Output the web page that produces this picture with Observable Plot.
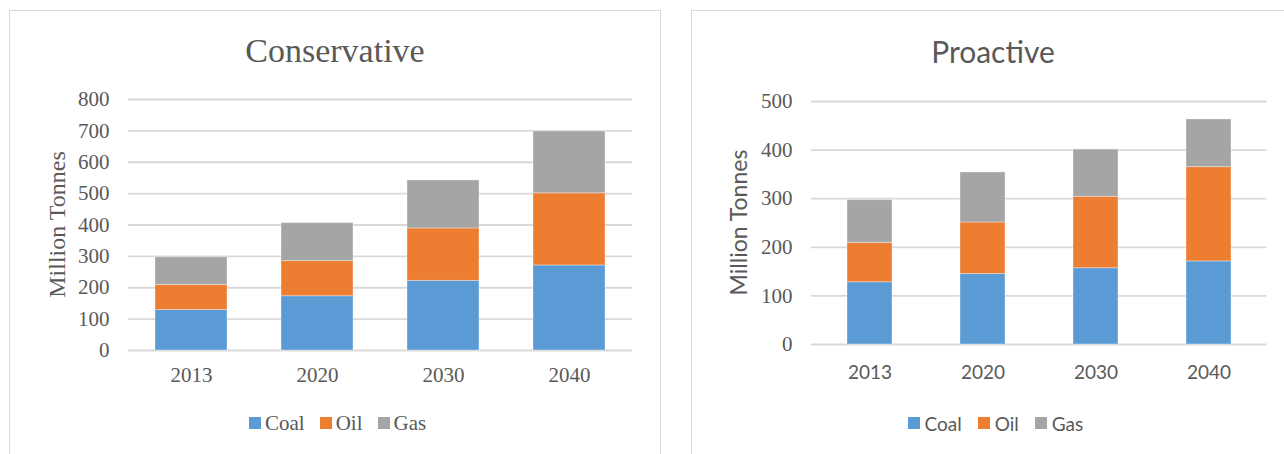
<!DOCTYPE html>
<html><head><meta charset="utf-8">
<script src="https://cdn.jsdelivr.net/npm/d3@7"></script>
<script src="https://cdn.jsdelivr.net/npm/@observablehq/plot@0.6"></script>
<style>
html,body{margin:0;padding:0;background:#fff;}
#root{position:relative;width:1284px;height:454px;overflow:hidden;background:#fff;}
.panel{position:absolute;border:1.5px solid #d9d9d9;box-sizing:border-box;}
.abs{position:absolute;}
#root .legL, #root .legL *{font-family:"Liberation Serif",serif !important;font-size:21px !important;color:#595959 !important;}
#root .legR, #root .legR *{font-family:Lato,sans-serif !important;font-size:19px !important;color:#595959 !important;}
#root .legL > div, #root .legR > div{margin:0 !important;}
.lgl-swatch{margin-right:15px !important;}
.lgl-swatch > svg{margin-right:4px !important;}
.lgr-swatch{margin-right:16px !important;}
.lgr-swatch > svg{margin-right:5px !important;}
</style></head><body><div id="root"></div>
<script>
const years = ["2013","2020","2030","2040"];
const fuels = ["Coal","Oil","Gas"];
const fuelColors = ["#5B9BD5","#ED7D31","#A5A5A5"];
const conservativeCoal = [129,173,222,271];
const conservativeOil = [80,112,167,230];
const conservativeGas = [88,121,153,197];
const proactiveCoal = [128,145,157,171];
const proactiveOil = [81,106,147,194];
const proactiveGas = [88,103,97,98];
const conservativeTicks = [0,100,200,300,400,500,600,700,800];
const proactiveTicks = [0,100,200,300,400,500];
const titles = ["Conservative","Proactive"];
const yLabel = "Million Tonnes";

function rows(coal, oil, gas){
  return years.flatMap((year,i)=>[
    {year, fuel:"Coal", value:coal[i]},
    {year, fuel:"Oil", value:oil[i]},
    {year, fuel:"Gas", value:gas[i]}
  ]);
}

function chart(o){
  const svg = Plot.plot({
    width:o.width, height:o.height,
    marginLeft:o.ml, marginRight:o.mr, marginTop:o.mt, marginBottom:o.mb,
    style:{background:"transparent", color:"#595959", overflow:"visible"},
    x:{domain:years, paddingInner:o.pin, paddingOuter:o.pout},
    y:{domain:[0, o.ticks[o.ticks.length-1]]},
    color:{domain:fuels, range:fuelColors},
    marks:[
      Plot.gridY(o.ticks, {stroke:"#D9D9D9", strokeOpacity:1, strokeWidth:1.8}),
      Plot.barY(o.data, {x:"year", y:"value", fill:"fuel", stroke:"#ffffff", strokeOpacity:0.35, strokeWidth:1}),
      Plot.axisY(o.ticks, {tickSize:0, tickPadding:o.yPad, fontFamily:o.yFont, fontSize:o.yFontSize, label:null}),
      Plot.axisX({tickSize:0, tickPadding:o.xPad, fontFamily:o.xFont, fontSize:o.xFontSize, label:null})
    ]
  });
  svg.style.position = "absolute";
  svg.style.left = o.left + "px";
  svg.style.top = "0px";
  return svg;
}

const root = document.getElementById("root");

const pL = document.createElement("div");
pL.className = "panel";
Object.assign(pL.style, {left:"9px", top:"10px", width:"652px", height:"500px"});
root.appendChild(pL);
const pR = document.createElement("div");
pR.className = "panel";
Object.assign(pR.style, {left:"690.5px", top:"10px", width:"700px", height:"500px"});
root.appendChild(pR);

root.appendChild(chart({
  data: rows(conservativeCoal, conservativeOil, conservativeGas),
  ticks: conservativeTicks, width:660, height:400, left:0,
  ml:128, mr:28, mt:99, mb:50, pin:0.43, pout:0.215,
  yFont:"Liberation Serif", yFontSize:21, yPad:19,
  xFont:"Liberation Serif", xFontSize:21, xPad:17
}));

root.appendChild(chart({
  data: rows(proactiveCoal, proactiveOil, proactiveGas),
  ticks: proactiveTicks, width:624, height:400, left:660,
  ml:151, mr:17.5, mt:101, mb:56, pin:0.6, pout:0.3,
  yFont:"Liberation Serif", yFontSize:21, yPad:19,
  xFont:"Lato", xFontSize:19, xPad:21
}));

// legends
function legend(cls, wrapCls, left){
  const wrap = document.createElement("div");
  wrap.className = "abs " + wrapCls;
  Object.assign(wrap.style, {left:left+"px", top:"406.5px"});
  const lg = Plot.legend({color:{domain:fuels, range:fuelColors}, legend:"swatches", swatchSize:12, className:cls});
  wrap.appendChild(lg);
  root.appendChild(wrap);
}
legend("lgl", "legL", 249);
legend("lgr", "legR", 907.5);

// titles and axis titles
const ov = d3.select(root).append("svg")
  .attr("width",1284).attr("height",454)
  .style("position","absolute").style("left","0px").style("top","0px")
  .style("pointer-events","none");
ov.append("text").attr("x",335).attr("y",62).attr("text-anchor","middle")
  .attr("font-family","Liberation Serif").attr("font-size",34).attr("fill","#595959").text(titles[0]);
ov.append("text").attr("x",993).attr("y",62.5).attr("text-anchor","middle")
  .attr("font-family","Lato").attr("font-size",30).attr("fill","#595959").text(titles[1]);
ov.append("text").attr("transform","translate(65,224.5) rotate(-90)").attr("text-anchor","middle")
  .attr("font-family","Liberation Serif").attr("font-size",24).attr("fill","#595959").text(yLabel);
ov.append("text").attr("transform","translate(746.5,222.5) rotate(-90)").attr("text-anchor","middle")
  .attr("font-family","Lato").attr("font-size",23).attr("fill","#595959").text(yLabel);
</script>
</body></html>
